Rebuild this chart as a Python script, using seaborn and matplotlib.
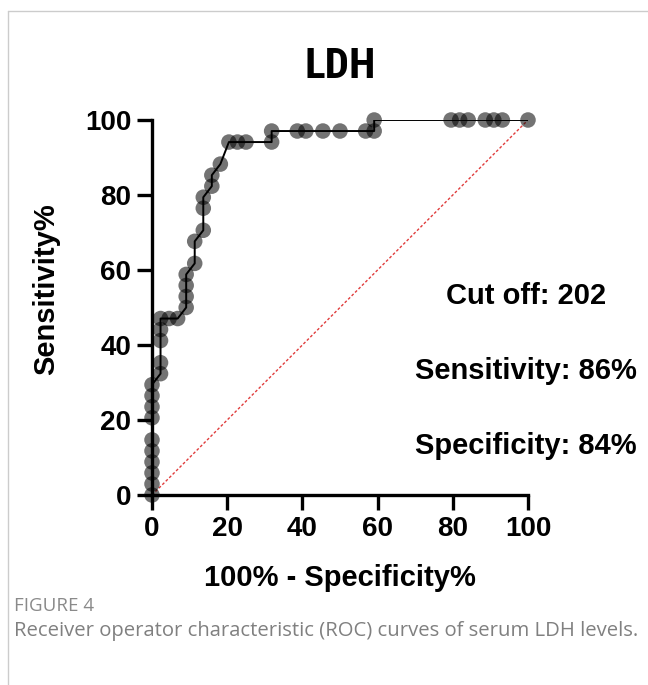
import seaborn as sns
import matplotlib.pyplot as plt
import pandas as pd
from matplotlib import font_manager as fm
from matplotlib.lines import Line2D

# ROC points (1 - specificity %, sensitivity %)
fpr = [0, 0, 0, 0, 0, 0, 0, 0, 0, 0,
       2.27, 2.27, 2.27, 2.27, 2.27,
       4.55, 6.82,
       9.09, 9.09, 9.09, 9.09,
       11.36, 11.36,
       13.64, 13.64, 13.64,
       15.91, 15.91,
       18.18,
       20.45, 22.73, 25.0,
       31.82, 31.82,
       38.64, 40.91, 45.45, 50.0, 56.82,
       59.09, 59.09,
       79.55, 81.82, 84.09, 88.64, 90.91, 93.18, 100.0]
tpr = [0, 2.94, 5.88, 8.82, 11.76, 14.71, 20.59, 23.53, 26.47, 29.41,
       32.35, 35.29, 41.18, 44.12, 47.06,
       47.06, 47.06,
       50.0, 52.94, 55.88, 58.82,
       61.76, 67.65,
       70.59, 76.47, 79.41,
       82.35, 85.29,
       88.24,
       94.12, 94.12, 94.12,
       94.12, 97.06,
       97.06, 97.06, 97.06, 97.06, 97.06,
       97.06, 100.0,
       100, 100, 100, 100, 100, 100, 100]

ref_line = [0, 100]
ticks = [0, 20, 40, 60, 80, 100]
notes = ["Cut off: 202", "Sensitivity: 86%", "Specificity: 84%"]

df = pd.DataFrame({'fpr': fpr, 'tpr': tpr})


def pick(names):
    for n in names:
        try:
            fm.findfont(fm.FontProperties(family=n), fallback_to_default=False)
            return n
        except ValueError:
            pass
    return 'DejaVu Sans'


main_font = pick(['Liberation Sans', 'Arial', 'DejaVu Sans'])
title_font = pick(['Roboto Condensed', 'Liberation Sans Narrow', 'Roboto', main_font])
cap_font = pick(['Open Sans', 'Lato', 'DejaVu Sans'])

sns.set_style("ticks")
plt.rcParams['font.family'] = [main_font, 'DejaVu Sans']
plt.rcParams['text.color'] = 'black'
plt.rcParams['axes.labelcolor'] = 'black'
plt.rcParams['xtick.color'] = 'black'
plt.rcParams['ytick.color'] = 'black'
plt.rcParams['axes.edgecolor'] = 'black'

fig = plt.figure(figsize=(6.48, 6.85), dpi=100)
ax = fig.add_axes([152 / 648, 1 - 495 / 685, 376 / 648, 375 / 685])

ax.plot(ref_line, ref_line, color='#e03c3c', lw=1, ls=(0, (2, 1.5)), zorder=1)
sns.lineplot(data=df, x='fpr', y='tpr', sort=False, estimator=None,
             color='black', lw=1.4, ax=ax, zorder=3)
sns.scatterplot(data=df, x='fpr', y='tpr', s=125, color='black', alpha=0.55,
                edgecolor='none', ax=ax, zorder=2, clip_on=False)

ax.set_xlim(0, 100)
ax.set_ylim(0, 100)
ax.set_xticks(ticks)
ax.set_yticks(ticks)
for s in ['top', 'right']:
    ax.spines[s].set_visible(False)
for s in ['left', 'bottom']:
    ax.spines[s].set_linewidth(2.4)
ax.tick_params(width=2.4, length=11, labelsize=20, pad=4)
for lab in ax.get_xticklabels() + ax.get_yticklabels():
    lab.set_fontweight('bold')

ax.set_xlabel("100% - Specificity%", fontsize=21, fontweight='bold', labelpad=16)
ax.set_ylabel("Sensitivity%", fontsize=21, fontweight='bold')
ax.yaxis.set_label_coords(-0.245, 0.55)
ax.set_title("LDH", fontsize=31, fontweight='bold', family=title_font, pad=30)

for i, t in enumerate(notes):
    ax.text(0.995, 0.53 - i * 0.2, t, transform=ax.transAxes, ha='center',
            va='center', fontsize=21, fontweight='bold')

# caption and frame lines
fig.text(14 / 648, 1 - 606 / 685, "FIGURE 4", fontsize=13.5, color='#8a8a8a',
         family=cap_font, va='center')
fig.text(14 / 648, 1 - 631 / 685,
         "Receiver operator characteristic (ROC) curves of serum LDH levels.",
         fontsize=14.6, color='#808080', family=cap_font, va='center')
fig.add_artist(Line2D([8 / 648, 1], [1 - 11 / 685] * 2, color='#cccccc', lw=1))
fig.add_artist(Line2D([8 / 648] * 2, [0, 1 - 11 / 685], color='#cccccc', lw=1))

fig.savefig("out.png", dpi=100)
